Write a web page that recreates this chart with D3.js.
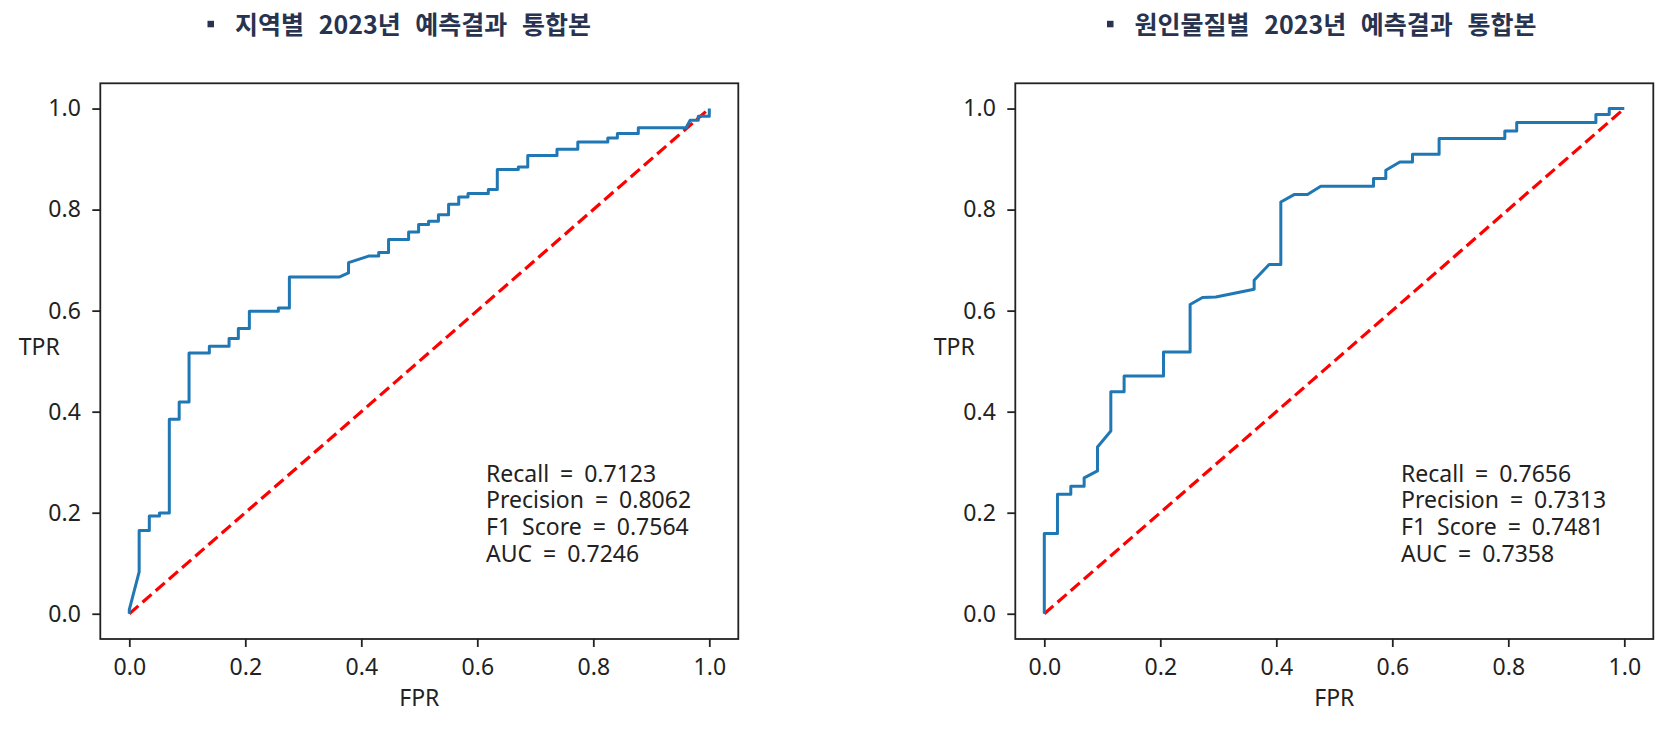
<!DOCTYPE html>
<html>
<head>
<meta charset="utf-8">
<script src="https://cdn.jsdelivr.net/npm/d3@7"></script>
<style>
  body { margin: 0; background: #fff; }
  text { font-family: "Noto Sans", "Open Sans", sans-serif; }
</style>
</head>
<body>
<div id="grafico"></div>
<script>
// curva ROC - 지역별
const FPR_REGION = [0, 0, 0.017, 0.017, 0.0345, 0.0345, 0.052, 0.052, 0.069, 0.069, 0.086, 0.086, 0.103, 0.103,
  0.138, 0.138, 0.172, 0.172, 0.188, 0.188, 0.207, 0.207, 0.257, 0.257, 0.276, 0.276, 0.3626, 0.378, 0.378,
  0.4126, 0.43, 0.43, 0.447, 0.447, 0.4816, 0.4816, 0.4988, 0.4988, 0.516, 0.516, 0.533, 0.533, 0.5505, 0.5505,
  0.568, 0.568, 0.584, 0.584, 0.619, 0.619, 0.6345, 0.6345, 0.6707, 0.6707, 0.687, 0.687, 0.7374, 0.7374,
  0.7733, 0.7733, 0.825, 0.825, 0.8415, 0.8415, 0.8776, 0.8776, 0.96, 0.967, 0.981, 0.981, 1.0, 1.0];
const TPR_REGION = [0, 0.008, 0.083, 0.165, 0.165, 0.1936, 0.1936, 0.1995, 0.1995, 0.385, 0.385, 0.419, 0.419, 0.516,
  0.516, 0.5295, 0.5295, 0.5447, 0.5447, 0.5645, 0.5645, 0.599, 0.599, 0.605, 0.605, 0.6667, 0.6667, 0.6746, 0.695,
  0.708, 0.708, 0.715, 0.715, 0.741, 0.741, 0.7558, 0.7558, 0.7703, 0.7703, 0.777, 0.777, 0.790, 0.790, 0.8106,
  0.8106, 0.825, 0.825, 0.8317, 0.8317, 0.8396, 0.8396, 0.8792, 0.8792, 0.8845, 0.8845, 0.907, 0.907, 0.9195,
  0.9195, 0.934, 0.934, 0.9418, 0.9418, 0.9505, 0.9505, 0.962, 0.962, 0.977, 0.977, 0.985, 0.985, 1.0];

// curva ROC - 원인물질별
const FPR_SUBST = [0, 0, 0.0227, 0.0227, 0.0457, 0.0457, 0.0687, 0.0687, 0.0917, 0.0917, 0.1147, 0.1147, 0.1376,
  0.1376, 0.2055, 0.2055, 0.2514, 0.2514, 0.2727, 0.2957, 0.3618, 0.3618, 0.3876, 0.4078, 0.4078, 0.4307, 0.4538,
  0.4767, 0.5676, 0.5676, 0.5888, 0.5888, 0.613, 0.6348, 0.6348, 0.6807, 0.6807, 0.794, 0.794, 0.8145, 0.8145,
  0.951, 0.951, 0.974, 0.974, 1.0];
const TPR_SUBST = [0, 0.1587, 0.1587, 0.2365, 0.2365, 0.2524, 0.2524, 0.2689, 0.2827, 0.3302, 0.3619, 0.4392, 0.4392,
  0.4707, 0.4707, 0.5182, 0.5182, 0.612, 0.626, 0.627, 0.6423, 0.660, 0.6912, 0.6912, 0.8151, 0.8297, 0.8297,
  0.8462, 0.8462, 0.8615, 0.8615, 0.8779, 0.8943, 0.8943, 0.9098, 0.9098, 0.9406, 0.9406, 0.9557, 0.9557, 0.9723,
  0.9723, 0.988, 0.988, 1.0, 1.0];

const TITULOS = ["지역별 2023년 예측결과 통합본", "원인물질별 2023년 예측결과 통합본"];
const METRICAS_REGION = ["Recall = 0.7123", "Precision = 0.8062", "F1 Score = 0.7564", "AUC = 0.7246"];
const METRICAS_SUBST = ["Recall = 0.7656", "Precision = 0.7313", "F1 Score = 0.7481", "AUC = 0.7358"];
const TICKS = [0, 0.2, 0.4, 0.6, 0.8, 1.0];
const DIAGONAL = [0, 1];

const WIDTH_VIS = 1669;
const HEIGHT_VIS = 731;
const WIDTH_GRAFICO = 638;
const TOP_GRAFICO = 83.3;
const BOTTOM_GRAFICO = 639;

const SVG = d3.select("#grafico").append("svg").attr("width", WIDTH_VIS).attr("height", HEIGHT_VIS);

var paneles = [
  { left: 100.3, fpr: FPR_REGION, tpr: TPR_REGION, titulo: TITULOS[0], metricas: METRICAS_REGION, bulletX: 207.5 },
  { left: 1015.3, fpr: FPR_SUBST, tpr: TPR_SUBST, titulo: TITULOS[1], metricas: METRICAS_SUBST, bulletX: 1107 }
];

paneles.forEach(function(p) {
  var escalaX = d3.scaleLinear().domain([-0.05, 1.05]).range([p.left, p.left + WIDTH_GRAFICO]);
  var escalaY = d3.scaleLinear().domain([-0.05, 1.05]).range([BOTTOM_GRAFICO, TOP_GRAFICO]);

  // titulo
  SVG.append("rect")
    .attr("x", p.bulletX).attr("y", 20.8)
    .attr("width", 6.5).attr("height", 6.5)
    .attr("fill", "#283350");
  SVG.append("text")
    .attr("x", p.bulletX + 27.5).attr("y", 33.5)
    .style("font-family", "'Noto Sans CJK KR', sans-serif")
    .style("font-weight", "bold")
    .style("font-size", "25px")
    .style("word-spacing", "9px")
    .attr("fill", "#283350")
    .text(p.titulo);

  // ejes
  var ejeX = d3.axisBottom(escalaX).tickValues(TICKS).tickFormat(d3.format(".1f")).tickSize(8).tickPadding(11.5);
  var ejeY = d3.axisLeft(escalaY).tickValues(TICKS).tickFormat(d3.format(".1f")).tickSize(8).tickPadding(11.5);

  var gx = SVG.append("g").attr("transform", "translate(0," + BOTTOM_GRAFICO + ")").call(ejeX);
  var gy = SVG.append("g").attr("transform", "translate(" + p.left + ",0)").call(ejeY);
  [gx, gy].forEach(function(g) {
    g.select(".domain").remove();
    g.selectAll("line").attr("stroke", "#222").attr("stroke-width", 1.8);
    g.selectAll("text").style("font-size", "23px").attr("fill", "#222")
      .style("font-family", "'Noto Sans', sans-serif");
  });

  // linea diagonal
  var linea = d3.line()
    .x(function(d) { return escalaX(d[0]); })
    .y(function(d) { return escalaY(d[1]); });

  SVG.append("path")
    .datum(DIAGONAL.map(function(v) { return [v, v]; }))
    .attr("d", linea)
    .attr("fill", "none")
    .attr("stroke", "#ff0000")
    .attr("stroke-width", 3.2)
    .attr("stroke-dasharray", "12,5.5");

  // curva ROC
  SVG.append("path")
    .datum(p.fpr.map(function(v, i) { return [v, p.tpr[i]]; }))
    .attr("d", linea)
    .attr("fill", "none")
    .attr("stroke", "#1f77b4")
    .attr("stroke-width", 3)
    .attr("stroke-linejoin", "round");

  // marco
  SVG.append("rect")
    .attr("x", p.left).attr("y", TOP_GRAFICO)
    .attr("width", WIDTH_GRAFICO).attr("height", BOTTOM_GRAFICO - TOP_GRAFICO)
    .attr("fill", "none")
    .attr("stroke", "#222")
    .attr("stroke-width", 1.8);

  // metricas
  var cuadro = SVG.append("text")
    .attr("x", escalaX(0.615))
    .attr("y", escalaY(0.103) - 3 * 26.7)
    .style("font-size", "23px")
    .style("word-spacing", "5px")
    .attr("fill", "#222");
  cuadro.selectAll("tspan")
    .data(p.metricas)
    .enter().append("tspan")
    .attr("x", escalaX(0.615))
    .attr("dy", function(d, i) { return i === 0 ? 0 : 26.7; })
    .text(function(d) { return d; });

  // etiquetas
  SVG.append("text")
    .attr("x", p.left + WIDTH_GRAFICO / 2).attr("y", 706)
    .attr("text-anchor", "middle")
    .style("font-size", "23px").attr("fill", "#222")
    .text("FPR");
  SVG.append("text")
    .attr("x", p.left - 81.5).attr("y", 354.5)
    .attr("text-anchor", "start")
    .style("font-size", "23px").attr("fill", "#222")
    .text("TPR");
});
</script>
</body>
</html>
